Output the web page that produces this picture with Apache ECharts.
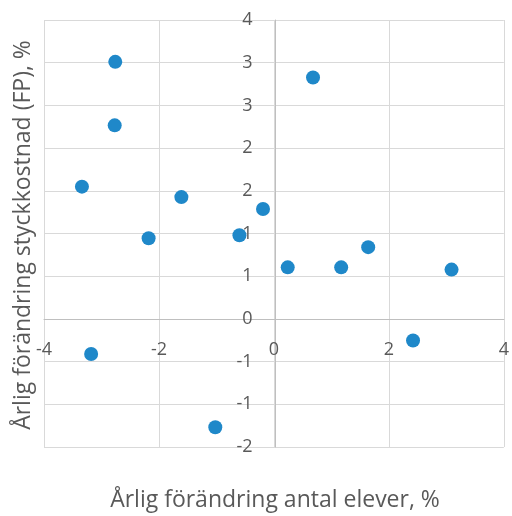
<!DOCTYPE html>
<html>
<head>
<meta charset="utf-8">
<script src="https://cdn.jsdelivr.net/npm/echarts@6/dist/echarts.min.js"></script>
<style>
  html, body { margin: 0; padding: 0; background: #fff; }
  #chart { width: 512px; height: 516px; }
</style>
</head>
<body>
<div id="chart"></div>
<script>
// Årlig förändring antal elever (x) mot årlig förändring styckkostnad (y), %
const elevChange = [-2.76, -2.77, 0.68, -3.34, -1.61, -0.19, -2.18, -0.60, 0.24, 1.17, 1.64, 3.09, 2.42, -3.18, -1.02];
const costChange = [3.44, 2.59, 3.23, 1.77, 1.63, 1.47, 1.08, 1.12, 0.69, 0.69, 0.96, 0.66, -0.29, -0.47, -1.45];

// Axis ticks (y labels are shown rounded to whole percent)
const xTickLabels = ['-4', '-2', '0', '2', '4'];
const yTickLabels = ['-2', '-1', '-1', '0', '1', '1', '2', '2', '3', '3', '4'];

const xMin = -4, xMax = 4, xStep = 2;
const yStep = 4 / 7;
const yMin = -3 * yStep;
const yMax = yMin + 10 * yStep;

const points = elevChange.map((x, i) => [x, costChange[i]]);

const textColor = '#595959';
const fontFamily = '"Open Sans", "DejaVu Sans", sans-serif';

// Plot area in pixels; the axes cross at (0, 0), so each axis is shifted
// inward from the grid edge to the zero line of the other axis.
const W = 512, H = 516;
const gridLeft = 44, gridRight = 5, gridTop = 20, gridBottom = 69;
const plotW = W - gridLeft - gridRight;
const plotH = H - gridTop - gridBottom;
const yAxisShift = plotW * (0 - xMin) / (xMax - xMin);
const xAxisShift = plotH * (0 - yMin) / (yMax - yMin);

const chart = echarts.init(document.getElementById('chart'));
chart.setOption({
  animation: false,
  backgroundColor: '#ffffff',
  grid: { left: gridLeft, right: gridRight, top: gridTop, bottom: gridBottom, containLabel: false },
  xAxis: {
    type: 'value',
    position: 'bottom',
    offset: -xAxisShift,
    min: xMin, max: xMax, interval: xStep,
    axisLine: { onZero: false, lineStyle: { color: '#bfbfbf', width: 1 } },
    axisTick: { show: false },
    axisLabel: {
      color: textColor, fontSize: 18, fontFamily: fontFamily, margin: 22,
      formatter: v => xTickLabels[Math.round((v - xMin) / xStep)] ?? ''
    },
    splitLine: { show: true, lineStyle: { color: '#d9d9d9', width: 1 } }
  },
  yAxis: {
    type: 'value',
    position: 'left',
    offset: -yAxisShift,
    min: yMin, max: yMax, interval: yStep,
    axisLine: { onZero: false, lineStyle: { color: '#bfbfbf', width: 1 } },
    axisTick: { show: false },
    axisLabel: {
      color: textColor, fontSize: 18, fontFamily: fontFamily, margin: 23,
      formatter: v => yTickLabels[Math.round((v - yMin) / yStep)] ?? ''
    },
    splitLine: { show: true, lineStyle: { color: '#d9d9d9', width: 1 } }
  },
  graphic: [
    {
      type: 'text', x: 275, y: 500,
      style: { text: 'Årlig förändring antal elever, %', fill: textColor, fontSize: 23, fontFamily: fontFamily,
               align: 'center', verticalAlign: 'middle' }
    },
    {
      type: 'text', x: 23, y: 235, rotation: Math.PI / 2,
      style: { text: 'Årlig förändring styckkostnad (FP), %', fill: textColor, fontSize: 23, fontFamily: fontFamily,
               align: 'center', verticalAlign: 'middle' }
    }
  ],
  series: [{
    type: 'scatter',
    data: points,
    symbol: 'circle',
    symbolSize: 14,
    itemStyle: { color: '#1f88c9', opacity: 1 }
  }]
});
</script>
</body>
</html>
